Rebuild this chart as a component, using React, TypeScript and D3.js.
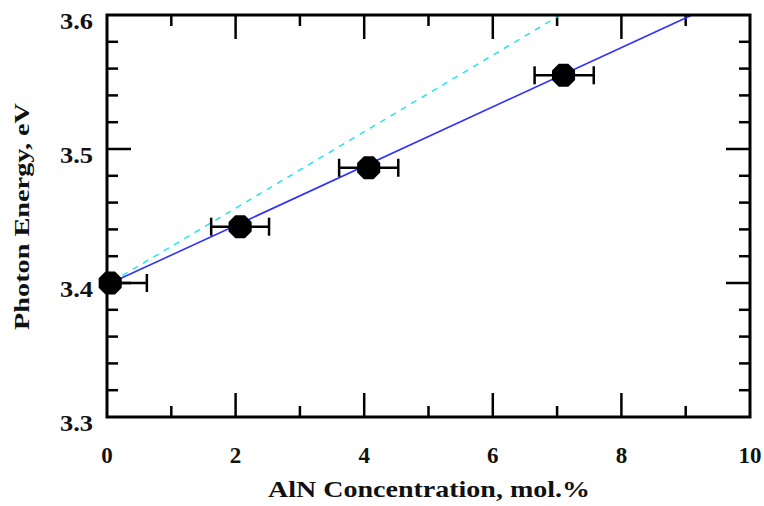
import React from "react";
import * as d3 from "d3";

const concentration = [0.05, 2.07, 4.07, 7.1];
const energy = [3.4, 3.442, 3.486, 3.555];
const xErrLow = [0.5, 0.45, 0.46, 0.45];
const xErrHigh = [0.57, 0.45, 0.46, 0.47];

const fitBlueX = [0.15, 9.1];
const fitBlueY = [3.402, 3.6];
const fitCyanX = [0.08, 7.05];
const fitCyanY = [3.401, 3.6];

const xTicks = [0, 2, 4, 6, 8, 10];
const xMinorTicks = [1, 3, 5, 7, 9];
const yTicks = [3.3, 3.4, 3.5, 3.6];
const yMinorTicks = [3.32, 3.34, 3.36, 3.38, 3.42, 3.44, 3.46, 3.48, 3.52, 3.54, 3.56, 3.58];

const W = 764, H = 506;
const L = 107, R = 750, T = 15, B = 417;

export default function App() {
  const x = d3.scaleLinear().domain([0, 10]).range([L, R]);
  const y = d3.scaleLinear().domain([3.3, 3.6]).range([B, T]);
  const fontStyle = { fontFamily: "Liberation Serif, Times New Roman, Times, serif", fontWeight: 700 as const };
  const line = d3.line<[number, number]>().x(d => x(d[0])).y(d => y(d[1]));
  const octagon = (cx: number, cy: number, r: number) => {
    const pts: string[] = [];
    for (let i = 0; i < 8; i++) {
      const a = Math.PI / 8 + (i * Math.PI) / 4;
      pts.push(`${cx + r * Math.cos(a)},${cy + r * Math.sin(a)}`);
    }
    return pts.join(" ");
  };
  const major = 24, minor = 11;
  return (
    <svg width={W} height={H} style={{ position: "absolute", left: 0, top: 0, background: "#fff" }}>
      <defs>
        <clipPath id="plotclip">
          <rect x={L} y={T - 10} width={R - L} height={B - T + 10} />
        </clipPath>
      </defs>
      <rect x={0} y={0} width={W} height={H} fill="#fff" />
      <g stroke="#000" strokeWidth={2.5}>
        {xTicks.slice(1, -1).map(t => (
          <g key={"xt" + t}>
            <line x1={x(t)} x2={x(t)} y1={B} y2={B - major} />
            <line x1={x(t)} x2={x(t)} y1={T} y2={T + major} />
          </g>
        ))}
        {xMinorTicks.map(t => (
          <g key={"xm" + t}>
            <line x1={x(t)} x2={x(t)} y1={B} y2={B - minor} />
            <line x1={x(t)} x2={x(t)} y1={T} y2={T + minor} />
          </g>
        ))}
        {yTicks.slice(1, -1).map(t => (
          <g key={"yt" + t}>
            <line x1={L} x2={L + major} y1={y(t)} y2={y(t)} />
            <line x1={R} x2={R - major} y1={y(t)} y2={y(t)} />
          </g>
        ))}
        {yMinorTicks.map(t => (
          <g key={"ym" + t}>
            <line x1={L} x2={L + minor} y1={y(t)} y2={y(t)} />
            <line x1={R} x2={R - minor} y1={y(t)} y2={y(t)} />
          </g>
        ))}
      </g>
      <path
        d={line([[fitCyanX[0], fitCyanY[0]], [fitCyanX[1], fitCyanY[1]]]) || ""}
        stroke="#22e6f0"
        strokeWidth={1.5}
        strokeDasharray="6,6"
        fill="none"
      />
      <path
        d={line([[fitBlueX[0], fitBlueY[0]], [fitBlueX[1], fitBlueY[1]]]) || ""}
        stroke="#3030ff"
        strokeWidth={1.6}
        fill="none"
      />
      <g clipPath="url(#plotclip)">
        {concentration.map((c, i) => {
          const cy = y(energy[i]);
          const x1 = x(c - xErrLow[i]);
          const x2 = x(c + xErrHigh[i]);
          return (
            <g key={"pt" + i} stroke="#000" strokeWidth={2.5}>
              <line x1={x1} x2={x2} y1={cy} y2={cy} />
              <line x1={x1} x2={x1} y1={cy - 9} y2={cy + 9} />
              <line x1={x2} x2={x2} y1={cy - 9} y2={cy + 9} />
            </g>
          );
        })}
      </g>
      {concentration.map((c, i) => (
        <polygon key={"mk" + i} points={octagon(x(c), y(energy[i]), 12.5)} fill="#000" />
      ))}
      <rect x={L} y={T} width={R - L} height={B - T} fill="none" stroke="#000" strokeWidth={3} />
      <g style={{ ...fontStyle, fontSize: "23px" }} fill="#111">
        {xTicks.map(t => (
          <text key={"xl" + t} x={x(t)} y={463} textAnchor="middle">
            {t}
          </text>
        ))}
        {yTicks.map(t => (
          <text key={"yl" + t} x={93} y={y(t) + 14} textAnchor="end" textLength={33} lengthAdjust="spacingAndGlyphs">
            {t.toFixed(1)}
          </text>
        ))}
      </g>
      <text
        x={(268 + 590) / 2}
        y={497}
        textAnchor="middle"
        style={{ ...fontStyle, fontSize: "23px" }}
        textLength={322}
        lengthAdjust="spacingAndGlyphs"
        fill="#111"
      >
        AlN Concentration, mol.%
      </text>
      <text
        transform={`translate(29, ${(103 + 330) / 2}) rotate(-90)`}
        textAnchor="middle"
        style={{ ...fontStyle, fontSize: "22px" }}
        textLength={227}
        lengthAdjust="spacingAndGlyphs"
        fill="#111"
      >
        Photon Energy, eV
      </text>
    </svg>
  );
}
